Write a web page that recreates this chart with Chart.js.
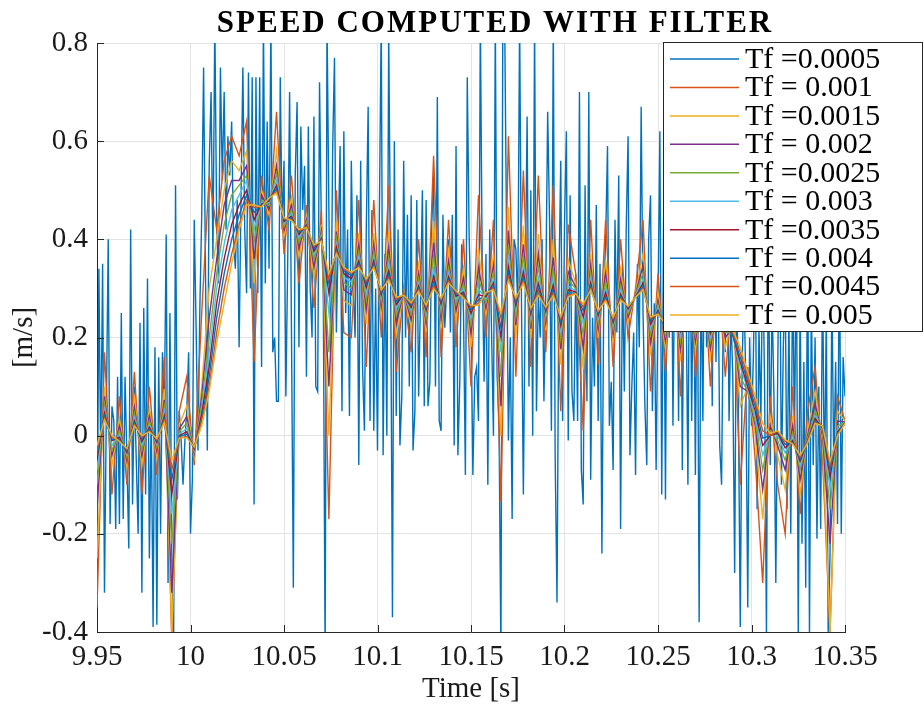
<!DOCTYPE html>
<html>
<head>
<meta charset="utf-8">
<script src="https://cdn.jsdelivr.net/npm/chart.js@4.4.1/dist/chart.umd.min.js"></script>
<style>
  html, body { margin: 0; padding: 0; background: #fff; }
</style>
</head>
<body>
<canvas id="speedChart" width="924" height="709"></canvas>
<script>
// speed chart — ten filtered speed estimates, Tf from 0.0005 to 0.005

const chartTitle = 'SPEED COMPUTED WITH FILTER';
const seriesLabels = ['Tf =0.0005', 'Tf = 0.001', 'Tf =0.0015', 'Tf = 0.002', 'Tf =0.0025',
                      'Tf = 0.003', 'Tf =0.0035', 'Tf = 0.004', 'Tf =0.0045', 'Tf = 0.005'];
const xTicks = [9.95, 10, 10.05, 10.1, 10.15, 10.2, 10.25, 10.3, 10.35];
const xTickLabels = ['9.95', '10', '10.05', '10.1', '10.15', '10.2', '10.25', '10.3', '10.35'];
const yTicks = [-0.4, -0.2, 0, 0.2, 0.4, 0.6, 0.8];
const yTickLabels = ['-0.4', '-0.2', '0', '0.2', '0.4', '0.6', '0.8'];

// time base of the fastest estimate (1 ms samples)
const timeFast = [
  9.950,9.951,9.952,9.953,9.954,9.955,9.956,9.957,9.958,9.959,
  9.960,9.961,9.962,9.963,9.964,9.965,9.966,9.967,9.968,9.969,
  9.970,9.971,9.972,9.973,9.974,9.975,9.976,9.977,9.978,9.979,
  9.980,9.981,9.982,9.983,9.984,9.985,9.986,9.987,9.988,9.989,
  9.990,9.991,9.992,9.993,9.994,9.995,9.996,9.997,9.998,9.999,
  10.000,10.001,10.002,10.003,10.004,10.005,10.006,10.007,10.008,10.009,
  10.010,10.011,10.012,10.013,10.014,10.015,10.016,10.017,10.018,10.019,
  10.020,10.021,10.022,10.023,10.024,10.025,10.026,10.027,10.028,10.029,
  10.030,10.031,10.032,10.033,10.034,10.035,10.036,10.037,10.038,10.039,
  10.040,10.041,10.042,10.043,10.044,10.045,10.046,10.047,10.048,10.049,
  10.050,10.051,10.052,10.053,10.054,10.055,10.056,10.057,10.058,10.059,
  10.060,10.061,10.062,10.063,10.064,10.065,10.066,10.067,10.068,10.069,
  10.070,10.071,10.072,10.073,10.074,10.075,10.076,10.077,10.078,10.079,
  10.080,10.081,10.082,10.083,10.084,10.085,10.086,10.087,10.088,10.089,
  10.090,10.091,10.092,10.093,10.094,10.095,10.096,10.097,10.098,10.099,
  10.100,10.101,10.102,10.103,10.104,10.105,10.106,10.107,10.108,10.109,
  10.110,10.111,10.112,10.113,10.114,10.115,10.116,10.117,10.118,10.119,
  10.120,10.121,10.122,10.123,10.124,10.125,10.126,10.127,10.128,10.129,
  10.130,10.131,10.132,10.133,10.134,10.135,10.136,10.137,10.138,10.139,
  10.140,10.141,10.142,10.143,10.144,10.145,10.146,10.147,10.148,10.149,
  10.150,10.151,10.152,10.153,10.154,10.155,10.156,10.157,10.158,10.159,
  10.160,10.161,10.162,10.163,10.164,10.165,10.166,10.167,10.168,10.169,
  10.170,10.171,10.172,10.173,10.174,10.175,10.176,10.177,10.178,10.179,
  10.180,10.181,10.182,10.183,10.184,10.185,10.186,10.187,10.188,10.189,
  10.190,10.191,10.192,10.193,10.194,10.195,10.196,10.197,10.198,10.199,
  10.200,10.201,10.202,10.203,10.204,10.205,10.206,10.207,10.208,10.209,
  10.210,10.211,10.212,10.213,10.214,10.215,10.216,10.217,10.218,10.219,
  10.220,10.221,10.222,10.223,10.224,10.225,10.226,10.227,10.228,10.229,
  10.230,10.231,10.232,10.233,10.234,10.235,10.236,10.237,10.238,10.239,
  10.240,10.241,10.242,10.243,10.244,10.245,10.246,10.247,10.248,10.249,
  10.250,10.251,10.252,10.253,10.254,10.255,10.256,10.257,10.258,10.259,
  10.260,10.261,10.262,10.263,10.264,10.265,10.266,10.267,10.268,10.269,
  10.270,10.271,10.272,10.273,10.274,10.275,10.276,10.277,10.278,10.279,
  10.280,10.281,10.282,10.283,10.284,10.285,10.286,10.287,10.288,10.289,
  10.290,10.291,10.292,10.293,10.294,10.295,10.296,10.297,10.298,10.299,
  10.300,10.301,10.302,10.303,10.304,10.305,10.306,10.307,10.308,10.309,
  10.310,10.311,10.312,10.313,10.314,10.315,10.316,10.317,10.318,10.319,
  10.320,10.321,10.322,10.323,10.324,10.325,10.326,10.327,10.328,10.329,
  10.330,10.331,10.332,10.333,10.334,10.335,10.336,10.337,10.338,10.339,
  10.340,10.341,10.342,10.343,10.344,10.345,10.346,10.347,10.348,10.349,
  10.350
];

// time base of the other estimates (4 ms samples)
const timeSlow = [
  9.950,9.954,9.958,9.962,9.966,9.970,9.974,9.978,9.982,9.986,
  9.990,9.994,9.998,10.002,10.006,10.010,10.014,10.018,10.022,10.026,
  10.030,10.034,10.038,10.042,10.046,10.050,10.054,10.058,10.062,10.066,
  10.070,10.074,10.078,10.082,10.086,10.090,10.094,10.098,10.102,10.106,
  10.110,10.114,10.118,10.122,10.126,10.130,10.134,10.138,10.142,10.146,
  10.150,10.154,10.158,10.162,10.166,10.170,10.174,10.178,10.182,10.186,
  10.190,10.194,10.198,10.202,10.206,10.210,10.214,10.218,10.222,10.226,
  10.230,10.234,10.238,10.242,10.246,10.250,10.254,10.258,10.262,10.266,
  10.270,10.274,10.278,10.282,10.286,10.290,10.294,10.298,10.302,10.306,
  10.310,10.314,10.318,10.322,10.326,10.330,10.334,10.338,10.342,10.346,
  10.350
];

const speedTf0005 = [
  -0.33,0.34,-0.05,0.35,-0.32,0.05,0.40,-0.18,0.06,0.03,
  -0.19,0.12,-0.18,0.25,-0.17,0.12,-0.05,-0.23,0.42,-0.14,
  0.10,-0.05,-0.20,0.23,-0.32,0.26,-0.12,0.32,-0.25,0.05,
  -0.39,0.18,-0.385,0.16,-0.20,0.17,0.05,0.41,-0.30,0.25,
  -0.24,-0.40,0.51,-0.13,0.05,-0.01,-0.10,-0.01,0.05,0.17,
  -0.20,-0.09,0.44,0.22,-0.03,0.26,0.45,0.75,0.34,-0.03,
  0.55,0.70,0.36,0.85,0.43,0.31,0.75,0.52,0.70,0.42,
  0.61,0.53,0.64,0.40,0.34,0.48,0.18,0.48,0.75,0.42,
  0.29,0.74,0.30,0.73,-0.14,0.73,0.29,0.73,0.14,0.85,
  0.31,0.64,0.34,0.85,0.17,0.20,0.07,0.07,0.73,0.42,
  0.56,0.08,0.36,0.70,0.21,-0.31,0.53,0.68,0.18,0.63,
  0.46,0.55,0.12,0.63,0.30,0.20,0.65,0.10,0.09,0.72,
  0.42,0.30,-0.45,0.85,0.46,0.15,0.58,0.77,0.21,0.40,
  0.59,0.05,0.62,0.25,0.42,0.04,0.56,0.31,0.20,0.49,
  -0.06,0.56,0.14,0.01,0.42,0.67,0.03,0.46,0.01,0.30,
  -0.03,0.45,0.85,-0.04,0.37,0.00,0.82,0.34,-0.37,0.60,
  0.04,0.42,-0.02,0.08,0.56,0.20,0.45,0.10,0.49,-0.03,
  0.05,0.48,0.08,0.28,0.50,0.06,0.48,0.06,0.11,0.43,
  0.53,0.10,0.69,0.03,0.01,0.45,0.22,0.30,0.40,0.21,
  0.45,-0.02,0.59,-0.04,0.11,0.39,0.25,-0.08,0.73,0.41,
  0.25,-0.08,0.12,0.14,0.03,0.85,0.35,0.11,0.37,-0.10,
  0.42,0.21,0.00,0.85,0.12,0.02,-0.45,0.85,0.85,0.42,
  -0.01,0.20,-0.17,0.40,0.38,0.26,0.85,0.27,-0.12,0.29,
  0.65,0.10,0.50,0.00,0.85,0.05,0.29,0.20,0.40,0.07,
  0.30,0.66,0.44,0.01,0.85,-0.04,-0.34,0.31,0.56,0.03,
  0.43,0.62,-0.01,0.49,0.09,0.03,0.33,0.03,0.70,-0.07,
  -0.14,0.51,0.07,0.70,-0.09,0.24,0.10,0.47,0.03,0.35,
  -0.24,0.29,0.40,0.59,0.02,0.11,-0.07,0.44,0.21,0.53,
  -0.19,0.35,0.09,0.42,0.61,-0.04,0.10,0.21,-0.08,0.35,
  0.18,0.67,0.25,0.06,-0.06,0.40,0.49,0.05,0.27,-0.07,
  0.27,0.62,-0.12,0.45,-0.13,0.52,0.20,0.60,0.02,0.38,
  0.48,0.03,0.55,-0.07,0.42,0.30,-0.10,0.50,0.03,0.40,
  -0.08,0.45,-0.38,0.35,0.03,0.52,0.18,0.28,0.45,0.06,
  0.58,0.15,0.40,-0.02,-0.10,0.30,0.17,0.45,0.03,0.25,
  0.12,-0.28,0.35,0.05,-0.39,0.15,0.30,0.10,-0.35,0.20,
  0.02,0.16,0.40,-0.15,0.22,0.03,0.38,0.10,-0.41,0.45,
  -0.06,0.28,0.08,-0.30,0.12,0.50,-0.10,0.18,0.32,-0.15,
  0.25,-0.20,0.35,0.00,0.40,-0.41,0.30,-0.22,0.15,-0.31,
  0.45,-0.41,0.28,-0.06,0.20,-0.21,0.10,-0.19,0.35,-0.12,
  0.25,-0.40,-0.24,0.30,-0.07,0.15,-0.18,0.42,-0.20,0.16,
  0.08
];

const speedTf001 = [
  -0.35,0.17,-0.12,0.08,-0.10,0.13,-0.12,0.10,-0.08,0.16,
  -0.42,0.05,0.12,-0.06,0.25,0.53,0.42,0.56,0.61,0.57,
  0.64,0.15,0.53,0.42,0.66,0.37,0.53,0.31,0.47,0.26,
  0.46,-0.17,0.50,0.21,0.20,0.48,0.14,0.48,0.20,0.51,
  0.13,0.30,0.17,0.40,0.16,0.57,0.16,0.44,0.18,0.40,
  0.10,0.49,0.20,0.44,-0.135,0.61,0.12,0.54,0.14,0.53,
  0.17,0.51,0.05,0.43,0.33,0.01,0.44,0.145,0.44,0.14,
  0.40,0.20,0.30,0.44,0.09,0.33,0.13,0.40,0.08,0.42,
  0.12,0.38,0.10,0.34,0.12,0.30,-0.10,0.14,-0.05,-0.30,
  0.08,-0.10,-0.20,0.10,-0.16,0.05,0.14,-0.05,-0.40,0.08,
  0.03
];

const speedTf0015 = [
  -0.25,0.10,-0.06,0.035,-0.064,0.076,-0.06,0.055,-0.044,0.095,
  -0.40,0.023,0.06,-0.042,0.10,0.30,0.40,0.50,0.56,0.54,
  0.58,0.31,0.50,0.45,0.58,0.406,0.485,0.364,0.448,0.323,
  0.43,0.0,0.437,0.275,0.265,0.413,0.228,0.413,0.247,0.416,
  0.204,0.293,0.22,0.348,0.212,0.437,0.219,0.377,0.236,0.342,
  0.181,0.38,0.245,0.37,0.0,0.466,0.199,0.428,0.199,0.411,
  0.215,0.40,0.145,0.358,0.31,0.136,0.37,0.199,0.359,0.19,
  0.339,0.232,0.291,0.37,0.164,0.29,0.177,0.33,0.152,0.337,
  0.174,0.315,0.159,0.29,0.18,0.24,0.06,0.10,0.0,-0.17,
  0.04,-0.04,-0.11,0.04,-0.12,0.01,0.09,-0.01,-0.40,0.05,
  0.03
];

const speedTf002 = [
  -0.15,0.08,-0.04,0.02,-0.052,0.058,-0.04,0.04,-0.032,0.073,
  -0.32,0.014,0.039,-0.036,0.08,0.24,0.36,0.47,0.52,0.52,
  0.55,0.36,0.49,0.46,0.55,0.418,0.47,0.382,0.44,0.344,
  0.418,0.10,0.416,0.297,0.287,0.39,0.257,0.39,0.263,0.384,
  0.229,0.291,0.236,0.331,0.229,0.393,0.238,0.356,0.255,0.322,
  0.208,0.343,0.26,0.347,0.06,0.418,0.225,0.39,0.218,0.371,
  0.23,0.363,0.176,0.334,0.303,0.178,0.347,0.217,0.332,0.206,
  0.319,0.242,0.288,0.347,0.189,0.276,0.193,0.307,0.176,0.309,
  0.192,0.293,0.178,0.27,0.20,0.22,0.10,0.09,0.02,-0.11,
  0.02,-0.02,-0.07,0.02,-0.09,0.0,0.065,0.0,-0.22,0.03,
  0.028
];

const speedTf0025 = [
  -0.10,0.065,-0.03,0.01,-0.044,0.046,-0.03,0.03,-0.024,0.059,
  -0.22,0.008,0.026,-0.032,0.065,0.20,0.33,0.43,0.49,0.51,
  0.53,0.395,0.48,0.469,0.534,0.426,0.46,0.394,0.435,0.358,
  0.411,0.17,0.402,0.312,0.30,0.375,0.276,0.375,0.274,0.363,
  0.246,0.29,0.247,0.32,0.24,0.364,0.251,0.342,0.268,0.309,
  0.226,0.319,0.27,0.332,0.12,0.386,0.243,0.365,0.231,0.345,
  0.24,0.339,0.197,0.318,0.299,0.206,0.332,0.229,0.314,0.217,
  0.306,0.249,0.286,0.332,0.206,0.267,0.204,0.292,0.192,0.291,
  0.204,0.279,0.191,0.26,0.21,0.21,0.12,0.09,0.03,-0.07,
  0.01,-0.01,-0.05,0.005,-0.07,-0.005,0.05,0.007,-0.15,0.02,
  0.027
];

const speedTf003 = [
  -0.07,0.053,-0.02,0.002,-0.038,0.036,-0.019,0.022,-0.018,0.047,
  -0.16,0.003,0.015,-0.029,0.05,0.17,0.30,0.39,0.46,0.49,
  0.52,0.42,0.475,0.475,0.52,0.432,0.452,0.404,0.431,0.369,
  0.405,0.25,0.39,0.323,0.313,0.363,0.292,0.363,0.282,0.346,
  0.259,0.288,0.256,0.31,0.25,0.34,0.261,0.331,0.278,0.299,
  0.24,0.299,0.278,0.319,0.17,0.36,0.257,0.345,0.241,0.323,
  0.248,0.319,0.214,0.305,0.295,0.228,0.319,0.239,0.30,0.226,
  0.295,0.255,0.284,0.319,0.219,0.26,0.212,0.279,0.205,0.276,
  0.214,0.267,0.201,0.25,0.22,0.205,0.14,0.095,0.04,-0.04,
  0.005,0.0,-0.035,-0.005,-0.06,-0.008,0.04,0.012,-0.11,0.012,
  0.026
];

const speedTf0035 = [
  -0.05,0.046,-0.01,-0.003,-0.034,0.03,-0.012,0.017,-0.014,0.04,
  -0.12,0.0,0.008,-0.027,0.045,0.14,0.27,0.36,0.43,0.47,
  0.50,0.44,0.472,0.478,0.51,0.436,0.447,0.41,0.429,0.376,
  0.402,0.29,0.384,0.33,0.32,0.356,0.302,0.356,0.287,0.336,
  0.267,0.288,0.261,0.305,0.255,0.325,0.268,0.324,0.284,0.292,
  0.249,0.287,0.283,0.311,0.20,0.344,0.265,0.333,0.248,0.31,
  0.253,0.307,0.224,0.297,0.293,0.242,0.311,0.245,0.291,0.231,
  0.288,0.258,0.283,0.311,0.227,0.255,0.217,0.271,0.213,0.266,
  0.22,0.26,0.208,0.245,0.225,0.205,0.15,0.10,0.05,-0.02,
  0.0,0.005,-0.025,-0.01,-0.052,-0.01,0.035,0.015,-0.085,0.008,
  0.026
];

const speedTf004 = [
  -0.04,0.04,-0.007,-0.007,-0.03,0.026,-0.007,0.013,-0.01,0.034,
  -0.09,-0.002,0.003,-0.025,0.035,0.12,0.24,0.33,0.40,0.45,
  0.49,0.455,0.469,0.481,0.503,0.44,0.443,0.414,0.427,0.382,
  0.399,0.31,0.378,0.336,0.326,0.35,0.31,0.35,0.291,0.327,
  0.274,0.287,0.266,0.30,0.26,0.313,0.273,0.318,0.289,0.287,
  0.257,0.277,0.287,0.305,0.22,0.332,0.272,0.323,0.253,0.299,
  0.257,0.297,0.233,0.291,0.291,0.254,0.305,0.249,0.283,0.236,
  0.283,0.261,0.283,0.305,0.234,0.252,0.221,0.265,0.219,0.259,
  0.224,0.254,0.213,0.24,0.23,0.205,0.16,0.11,0.06,-0.005,
  0.0,0.008,-0.018,-0.013,-0.047,-0.012,0.03,0.017,-0.07,0.005,
  0.025
];

const speedTf0045 = [
  -0.03,0.035,-0.003,-0.01,-0.028,0.022,-0.003,0.01,-0.008,0.03,
  -0.07,-0.004,-0.002,-0.024,0.03,0.10,0.21,0.30,0.37,0.43,
  0.48,0.465,0.467,0.483,0.498,0.442,0.44,0.418,0.425,0.386,
  0.397,0.32,0.374,0.34,0.33,0.345,0.316,0.345,0.295,0.321,
  0.279,0.287,0.269,0.297,0.264,0.305,0.277,0.314,0.293,0.283,
  0.262,0.27,0.29,0.30,0.24,0.322,0.278,0.315,0.257,0.292,
  0.26,0.29,0.239,0.286,0.29,0.262,0.30,0.253,0.278,0.239,
  0.279,0.263,0.282,0.30,0.239,0.249,0.225,0.26,0.224,0.254,
  0.228,0.25,0.217,0.24,0.232,0.21,0.17,0.12,0.07,0.01,
  0.0,0.01,-0.012,-0.015,-0.043,-0.013,0.027,0.018,-0.06,0.002,
  0.025
];

const speedTf005 = [
  -0.02,0.032,0.0,-0.012,-0.026,0.02,0.0,0.008,-0.006,0.027,
  -0.05,-0.005,-0.004,-0.023,0.02,0.09,0.19,0.27,0.35,0.42,
  0.47,0.47,0.466,0.484,0.494,0.444,0.438,0.42,0.424,0.389,
  0.396,0.33,0.371,0.343,0.333,0.342,0.319,0.342,0.297,0.317,
  0.282,0.286,0.271,0.294,0.266,0.299,0.28,0.311,0.295,0.28,
  0.266,0.265,0.292,0.297,0.25,0.316,0.281,0.31,0.26,0.286,
  0.262,0.285,0.243,0.283,0.289,0.268,0.297,0.255,0.274,0.241,
  0.276,0.264,0.282,0.297,0.242,0.247,0.227,0.257,0.227,0.25,
  0.23,0.247,0.22,0.24,0.235,0.215,0.18,0.13,0.08,0.025,
  0.005,0.01,-0.008,-0.017,-0.04,-0.015,0.025,0.02,-0.052,0.0,
  0.025
];

// MATLAB default line colour order
const lineColors = ['#0072BD', '#D95319', '#EDB120', '#7E2F8E', '#77AC30',
                    '#4DBEEE', '#A2142F', '#0072BD', '#D95319', '#EDB120'];

(function(){
    const canvas = document.getElementById('speedChart');
    const ctx = canvas.getContext('2d');
    const FONT = '"Liberation Serif", "Times New Roman", serif';
    const INK = '#1a1a1a';

    const allSeries = [speedTf0005, speedTf001, speedTf0015, speedTf002, speedTf0025,
                       speedTf003, speedTf0035, speedTf004, speedTf0045, speedTf005];

    const datasets = allSeries.map((vals, i) => {
        const times = i === 0 ? timeFast : timeSlow;
        return {
            label: seriesLabels[i],
            data: vals.map((v, k) => ({ x: times[k], y: v })),
            borderColor: lineColors[i],
            backgroundColor: lineColors[i],
            borderWidth: 1.4,
            pointRadius: 0,
            tension: 0,
            fill: false,
            // later series drawn on top, like MATLAB
            order: allSeries.length - i
        };
    });

    // title, inward tick marks and the boxed legend drawn over the plot
    const decor = {
        id: 'decor',
        afterDraw(chart){
            const c = chart.ctx;
            const area = chart.chartArea;
            const xs = chart.scales.x, ys = chart.scales.y;
            c.save();

            c.strokeStyle = '#262626';
            c.lineWidth = 1;
            c.beginPath();
            xTicks.forEach(v => {
                const px = Math.round(xs.getPixelForValue(v)) + 0.5;
                c.moveTo(px, area.bottom);
                c.lineTo(px, area.bottom - 7);
            });
            yTicks.forEach(v => {
                const py = Math.round(ys.getPixelForValue(v)) + 0.5;
                c.moveTo(area.left, py);
                c.lineTo(area.left + 7, py);
            });
            c.stroke();

            c.fillStyle = '#000';
            c.font = 'bold 31px ' + FONT;
            c.textAlign = 'center';
            c.textBaseline = 'alphabetic';
            if('letterSpacing' in c) c.letterSpacing = '2px';
            c.fillText(chartTitle, 495, 32);
            if('letterSpacing' in c) c.letterSpacing = '0px';

            // legend box
            const bx = 663.5, by = 42.5, bw = 259, bh = 289;
            c.fillStyle = '#fff';
            c.fillRect(bx, by, bw, bh);
            c.strokeStyle = '#262626';
            c.strokeRect(bx, by, bw, bh);
            c.font = '30px ' + FONT;
            c.textAlign = 'left';
            c.textBaseline = 'middle';
            chart.data.datasets.forEach((ds, i) => {
                const ry = 59 + i * 28.45;
                c.strokeStyle = ds.borderColor;
                c.lineWidth = 1.5;
                c.beginPath();
                c.moveTo(670, ry);
                c.lineTo(739, ry);
                c.stroke();
                c.fillStyle = '#000';
                c.fillText(ds.label, 745, ry + 1);
            });
            c.restore();
        }
    };

    new Chart(ctx, {
        type: 'line',
        data: { datasets: datasets },
        options: {
            responsive: false,
            animation: false,
            events: [],
            layout: { padding: { left: 0, top: 43, right: 79, bottom: 0 } },
            plugins: {
                legend: { display: false },
                title: { display: false },
                tooltip: { enabled: false }
            },
            scales: {
                x: {
                    type: 'linear',
                    min: 9.95,
                    max: 10.35,
                    afterBuildTicks: s => { s.ticks = xTicks.map(v => ({ value: v })); },
                    afterFit: s => { s.height = 77; },
                    ticks: {
                        autoSkip: false,
                        maxRotation: 0,
                        padding: 8,
                        color: INK,
                        font: { family: FONT, size: 29 },
                        callback: (v, i) => xTickLabels[i]
                    },
                    grid: { color: '#e3e3e3', drawTicks: false },
                    border: { color: '#262626', width: 1 },
                    title: {
                        display: true,
                        text: 'Time [s]',
                        color: INK,
                        font: { family: FONT, size: 29 },
                        padding: { top: 0, bottom: 2 }
                    }
                },
                y: {
                    type: 'linear',
                    min: -0.4,
                    max: 0.8,
                    afterBuildTicks: s => { s.ticks = yTicks.map(v => ({ value: v })); },
                    afterFit: s => { s.width = 97; },
                    ticks: {
                        padding: 9,
                        color: INK,
                        font: { family: FONT, size: 29 },
                        callback: (v, i) => yTickLabels[i]
                    },
                    grid: { color: '#e3e3e3', drawTicks: false },
                    border: { color: '#262626', width: 1 },
                    title: {
                        display: true,
                        text: '[m/s]',
                        color: INK,
                        font: { family: FONT, size: 29 },
                        padding: { top: 7, bottom: 0 }
                    }
                }
            }
        },
        plugins: [decor]
    });
})();
</script>
</body>
</html>
